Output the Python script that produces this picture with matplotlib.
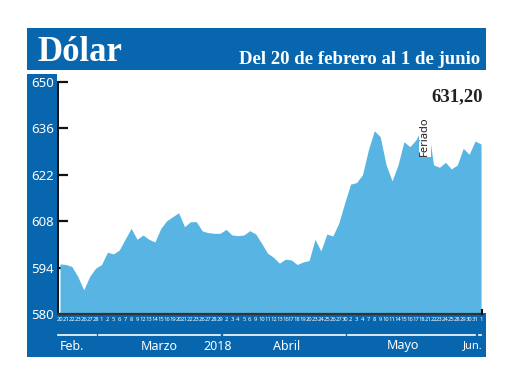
import matplotlib
matplotlib.use("Agg")
import matplotlib.pyplot as plt
from matplotlib.patches import Rectangle
from matplotlib.transforms import blended_transform_factory
import numpy as np

# ---- data ----
feb_days = [20, 21, 22, 23, 26, 27, 28]
mar_days = [1, 2, 5, 6, 7, 8, 9, 12, 13, 14, 15, 16, 19, 20, 21, 22, 23, 26, 27, 28, 29]
apr_days = [2, 3, 4, 5, 6, 9, 10, 11, 12, 13, 16, 17, 18, 19, 20, 23, 24, 25, 26, 27, 30]
may_days = [2, 3, 4, 7, 8, 9, 10, 11, 14, 15, 16, 17, 18, 21, 22, 23, 24, 25, 28, 29, 30, 31]
jun_days = [1]

feb_vals = [595.1, 594.9, 594.3, 591.3, 587.3, 591.3, 593.8]
mar_vals = [594.9, 598.6, 598.1, 599.3, 602.6, 605.8, 602.5, 603.8, 602.5, 601.7, 605.8,
            608.1, 609.3, 610.5, 606.3, 607.8, 607.8, 605.0, 604.5, 604.3, 604.3]
apr_vals = [605.5, 603.8, 603.6, 603.8, 605.1, 604.1, 601.3, 598.3, 597.1, 595.3, 596.5,
            596.3, 594.9, 595.7, 596.1, 602.5, 599.0, 604.1, 603.5, 607.3, 613.4]
may_vals = [619.1, 619.6, 621.9, 629.4, 635.2, 633.4, 624.9, 620.1, 624.9, 631.9, 630.4,
            632.4, 636.0, 637.0, 624.9, 624.2, 625.7, 623.7, 624.9, 629.9, 628.1, 632.1]
jun_vals = [631.2]

month_labels = ["Feb.", "Marzo", "2018", "Abril", "Mayo", "Jun."]
month_label_pos = [2.0, 16.7, 26.6, 38.3, 57.8, 71.3]
y_ticks = [580, 594, 608, 622, 636, 650]

title = "Dólar"
subtitle = "Del 20 de febrero al 1 de junio"
last_label = "631,20"
holiday_label = "Feriado"
holiday_day = ("May", 21)

groups = [feb_days, mar_days, apr_days, may_days, jun_days]
days = feb_days + mar_days + apr_days + may_days + jun_days
vals = feb_vals + mar_vals + apr_vals + may_vals + jun_vals
x = np.arange(len(vals))

# ---- style ----
W, H = 520, 390
BLUE = "#0866AE"
FILL = "#58B5E3"

def fx(p):
    return p / W

def fy(p):
    return 1 - p / H

fig = plt.figure(figsize=(W / 100, H / 100), dpi=100)
fig.patch.set_facecolor("white")

# bands
for (x0, y0, x1, y1) in [(27, 28, 486, 70), (27, 74, 57, 357), (27, 313, 486, 357)]:
    fig.patches.append(Rectangle((fx(x0), fy(y1)), fx(x1 - x0), (y1 - y0) / H,
                                 transform=fig.transFigure, facecolor=BLUE,
                                 edgecolor="none", zorder=-1))

fig.text(fx(37), fy(61), title, color="white", fontsize=25, fontweight="bold",
         family="Liberation Serif", ha="left", va="baseline")
fig.text(fx(480), fy(63.5), subtitle, color="white", fontsize=13.5, fontweight="bold",
         family="Liberation Serif", ha="right", va="baseline")

ax = fig.add_axes([fx(58), fy(314), (482 - 58) / W, (314 - 81.6) / H])
ax.set_facecolor("white")
ax.fill_between(x, 580, vals, color=FILL, linewidth=0, zorder=2)
ax.set_xlim(-2 / 5.93, (482 - 60) / 5.93)
ax.set_ylim(580, 650)

for s in ["top", "right"]:
    ax.spines[s].set_visible(False)
ax.spines["left"].set_color("#111111")
ax.spines["left"].set_linewidth(1.4)
ax.spines["bottom"].set_color("#333333")
ax.spines["bottom"].set_linewidth(1.6)
ax.spines["left"].set_zorder(5)
ax.spines["bottom"].set_zorder(5)

ax.set_yticks(y_ticks)
ax.set_yticklabels([str(v) for v in y_ticks], family="Noto Sans", fontsize=9.5,
                   color="white")
ax.tick_params(axis="y", direction="in", length=7.5, width=1.6, color="#111111",
               pad=3)

ax.set_xticks(x)
ax.set_xticklabels([str(d) for d in days], family=["Liberation Sans Narrow", "Noto Sans"],
                   fontsize=4.2, color="white")
ax.tick_params(axis="x", length=0, pad=2.5)

# small end mark at the right
ax.plot([x[-1] + 0.1, x[-1] + 0.1], [580, 581.3], color="#111111", lw=1.5,
        clip_on=False, zorder=6)

# month separators and labels
bt = blended_transform_factory(ax.transData, fig.transFigure)
start = 0
for g in groups:
    end = start + len(g) - 1
    ax.plot([start - 0.35, end + 0.05], [fy(335), fy(335)], color="white", lw=1.2,
            transform=bt, clip_on=False)
    start = end + 1
for lab, p in zip(month_labels, month_label_pos):
    if lab == "Jun.":
        ax.text(p, fy(346), lab, transform=bt, color="white", fontsize=8,
                family=["Liberation Sans Narrow", "Noto Sans"], ha="right", va="center")
    else:
        ax.text(p, fy(346), lab, transform=bt, color="white", fontsize=9,
                family="Noto Sans", ha="center", va="center")

# last value
ax.text(x[-1] + 0.3, 645.5, last_label, fontsize=13.5, fontweight="bold",
        family="Liberation Serif", color="#222222", ha="right", va="center")

# holiday marker
hol_idx = len(feb_days) + len(mar_days) + len(apr_days) + may_days.index(holiday_day[1])
ax.text(hol_idx - 0.5, 633.5, holiday_label, rotation=90, fontsize=8,
        family="Noto Sans", color="#222222", ha="center", va="center", zorder=7,
        bbox=dict(facecolor="white", edgecolor="none", pad=0.3))

fig.savefig("out.png", dpi=100)
